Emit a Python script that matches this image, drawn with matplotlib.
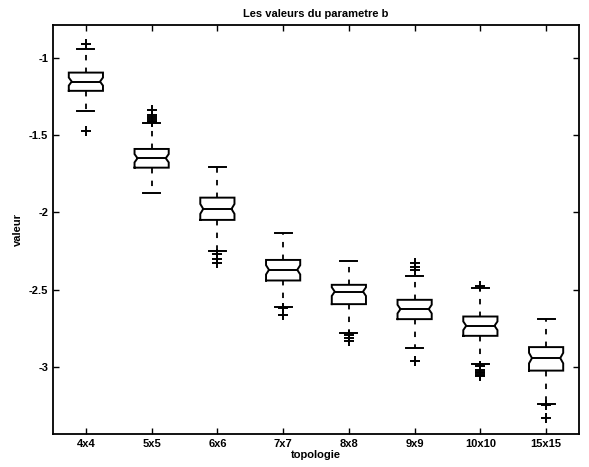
import matplotlib.pyplot as plt

plt.rcParams["font.family"] = ["Liberation Sans", "DejaVu Sans"]
plt.rcParams["axes.unicode_minus"] = False

topologies = ["4x4", "5x5", "6x6", "7x7", "8x8", "9x9", "10x10", "15x15"]

medians = [-1.153, -1.649, -1.977, -2.371, -2.512, -2.625, -2.733, -2.942]
q1 = [-1.213, -1.710, -2.048, -2.440, -2.593, -2.690, -2.798, -3.023]
q3 = [-1.095, -1.589, -1.904, -2.307, -2.468, -2.565, -2.673, -2.871]
whisker_low = [-1.341, -1.873, -2.249, -2.610, -2.777, -2.874, -2.979, -3.238]
whisker_high = [-0.944, -1.422, -1.707, -2.132, -2.311, -2.408, -2.486, -2.688]
notch_half = [0.026, 0.027, 0.032, 0.030, 0.028, 0.028, 0.028, 0.034]
outliers = [
    [-0.909, -1.470],
    [-1.336, -1.369, -1.385, -1.395, -1.405, -1.412],
    [-2.270, -2.300, -2.330],
    [-2.620, -2.665],
    [-2.790, -2.810, -2.830],
    [-2.324, -2.350, -2.371, -2.958],
    [-2.475, -2.990, -3.020, -3.030, -3.040, -3.050, -3.060],
    [-3.245, -3.330],
]

BOX_W = 0.26      # half width of a box
NOTCH_IN = 0.045  # how far the notch cuts into the box
CAP_W = 0.13      # half width of whisker caps


def draw_box(ax, x, lo, med, hi, wlo, whi, ci, flier):
    left, right = x - BOX_W, x + BOX_W
    xs = [left, left, left + NOTCH_IN, left, left, right, right,
          right - NOTCH_IN, right, right, left]
    ys = [lo, med - ci, med, med + ci, hi, hi, med + ci, med,
          med - ci, lo, lo]
    ax.plot(xs, ys, color="black", lw=1.4, solid_joinstyle="miter")
    ax.plot([left + NOTCH_IN, right - NOTCH_IN], [med, med], color="black", lw=1.4)
    for end, start in ((whi, hi), (wlo, lo)):
        ax.plot([x, x], [start, end], color="black", lw=1.3,
                linestyle=(0, (3, 4)))
        ax.plot([x - CAP_W, x + CAP_W], [end, end], color="black", lw=1.4)
    ax.plot([x] * len(flier), flier, linestyle="none", marker="+",
            color="black", markersize=7, markeredgewidth=1.4)


fig = plt.figure(figsize=(5.89, 4.67), dpi=100)
ax = fig.add_axes([0.090, 0.0707, 0.893, 0.8758])

for i in range(len(topologies)):
    draw_box(ax, i + 1, q1[i], medians[i], q3[i], whisker_low[i],
             whisker_high[i], notch_half[i], outliers[i])

ax.set_xlim(0.5, 8.5)
ax.set_ylim(-3.433, -0.787)
ax.set_xticks(range(1, len(topologies) + 1))
ax.set_xticklabels(topologies)
ax.set_yticks([-3, -2.5, -2, -1.5, -1])
ax.set_yticklabels(["-3", "-2.5", "-2", "-1.5", "-1"])
ax.tick_params(direction="in", length=4, width=1.0, top=True, right=True,
               labelsize=8)
for lab in ax.get_xticklabels() + ax.get_yticklabels():
    lab.set_fontweight("bold")
for spine in ax.spines.values():
    spine.set_linewidth(1.3)

ax.set_title("Les valeurs du parametre b", fontsize=8, fontweight="bold", pad=6)
ax.set_xlabel("topologie", fontsize=8, fontweight="bold", labelpad=1)
ax.set_ylabel("valeur", fontsize=8, fontweight="bold", labelpad=4)

fig.savefig("out.png", dpi=100)
